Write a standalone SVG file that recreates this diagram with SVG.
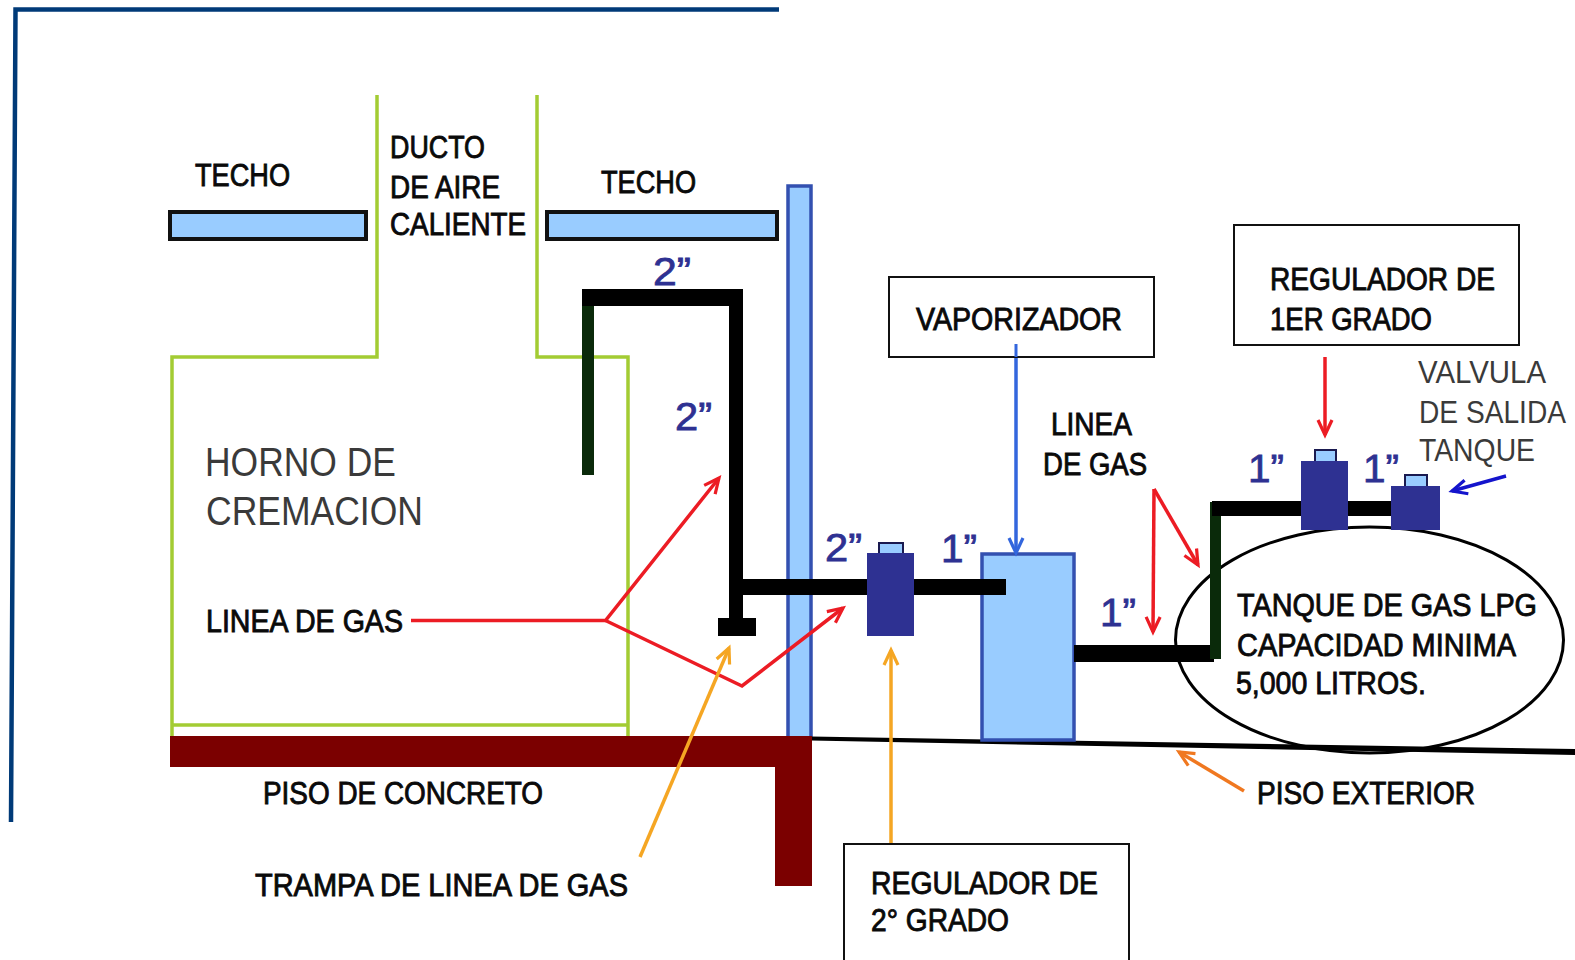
<svg xmlns="http://www.w3.org/2000/svg" width="1575" height="960" viewBox="0 0 1575 960">
<style>
text{font-family:"Liberation Sans",Arial,sans-serif;fill:#0a0a0a;stroke:#0a0a0a;stroke-width:.9}
.b{font-size:32px}
.t{font-size:40px;stroke:none;fill:#3a3a3a}
.v{font-size:32px;stroke:none;fill:#3a3a3a}
.d{font-size:39px;fill:#2e3192;stroke:#2e3192;stroke-width:.8}
.air{fill:none;stroke:#a3cc33;stroke-width:3.5}
.sky{fill:#99ccff;stroke:#111;stroke-width:4}
.lbl{fill:#fff;stroke:#111;stroke-width:2}
.reg{fill:#2e3192}
.cap{fill:#99ccff;stroke:#1a1a50;stroke-width:2}
.pipe{fill:#000}
.pipeg{fill:#0a2a0a}
.tank{fill:#99ccff;stroke:#3350b0;stroke-width:3.5}
.c{fill:none;stroke-width:3.5;stroke-linejoin:miter}
.m{fill:none;stroke-width:3.2}
</style>
<defs>
<marker id="ar" markerUnits="userSpaceOnUse" markerWidth="24" markerHeight="24" refX="20" refY="12" orient="auto"><path class="m" stroke="#ec1c24" d="M5 5L20 12L5 19"/></marker>
<marker id="ao" markerUnits="userSpaceOnUse" markerWidth="24" markerHeight="24" refX="20" refY="12" orient="auto"><path class="m" stroke="#f5a623" d="M5 5L20 12L5 19"/></marker>
<marker id="an" markerUnits="userSpaceOnUse" markerWidth="24" markerHeight="24" refX="20" refY="12" orient="auto"><path class="m" stroke="#f07820" d="M5 5L20 12L5 19"/></marker>
<marker id="ab" markerUnits="userSpaceOnUse" markerWidth="24" markerHeight="24" refX="20" refY="12" orient="auto"><path class="m" stroke="#3366dd" d="M5 5L20 12L5 19"/></marker>
<marker id="ad" markerUnits="userSpaceOnUse" markerWidth="24" markerHeight="24" refX="20" refY="12" orient="auto"><path class="m" stroke="#1414cc" d="M5 5L20 12L5 19"/></marker>
</defs>
<rect width="1575" height="960" fill="#fff"/>
<g id="frame"><path d="M779 9.5H15.5L11 822" fill="none" stroke="#003a78" stroke-width="4.5"/></g>
<g id="horno">
<path class="air" d="M377 95V357H172V737"/>
<path class="air" d="M537 95V357H628V737"/>
<path class="air" d="M172 725H628"/>
<text class="t" x="205" y="476" textLength="191" lengthAdjust="spacingAndGlyphs">HORNO DE</text>
<text class="t" x="206" y="525" textLength="217" lengthAdjust="spacingAndGlyphs">CREMACION</text>
</g>
<g id="techo-izq"><rect class="sky" x="170" y="212" width="196" height="27"/><text class="b" x="195" y="186" textLength="95" lengthAdjust="spacingAndGlyphs">TECHO</text></g>
<g id="techo-der"><rect class="sky" x="547" y="212" width="230" height="27"/><text class="b" x="601" y="193" textLength="95" lengthAdjust="spacingAndGlyphs">TECHO</text></g>
<g id="ducto">
<text class="b" x="390" y="158" textLength="95" lengthAdjust="spacingAndGlyphs">DUCTO</text>
<text class="b" x="390" y="198" textLength="110" lengthAdjust="spacingAndGlyphs">DE AIRE</text>
<text class="b" x="390" y="235" textLength="136" lengthAdjust="spacingAndGlyphs">CALIENTE</text>
</g>
<g id="columna"><rect class="tank" x="788" y="186" width="23" height="552"/></g>
<g id="tanque">
<ellipse cx="1369.5" cy="640" rx="194" ry="113" fill="#fff" stroke="#000" stroke-width="3"/>
<text class="b" x="1237" y="616" textLength="300" lengthAdjust="spacingAndGlyphs">TANQUE DE GAS LPG</text>
<text class="b" x="1237" y="656" textLength="279" lengthAdjust="spacingAndGlyphs">CAPACIDAD MINIMA</text>
<text class="b" x="1236" y="694" textLength="190" lengthAdjust="spacingAndGlyphs">5,000 LITROS.</text>
</g>
<g id="piso-exterior">
<path d="M811 736.5L1575 749V755L811 740.5Z" fill="#000"/>
<text class="b" x="1257" y="804" textLength="218" lengthAdjust="spacingAndGlyphs">PISO EXTERIOR</text>
</g>
<g id="piso-concreto">
<path d="M170 736H812V886H775V767H170Z" fill="#7b0000"/>
<text class="b" x="263" y="804" textLength="280" lengthAdjust="spacingAndGlyphs">PISO DE CONCRETO</text>
</g>
<g id="vaporizador-tanque"><rect class="tank" x="982" y="554" width="92" height="186"/></g>
<g id="tuberia">
<rect class="pipeg" x="582" y="289" width="12" height="186"/>
<rect class="pipe" x="582" y="289" width="161" height="17"/>
<rect class="pipe" x="729" y="289" width="14" height="335"/>
<rect class="pipe" x="718" y="618" width="38" height="18"/>
<rect class="pipe" x="743" y="579" width="263" height="16"/>
<rect class="pipe" x="1074" y="645" width="140" height="17"/>
<rect class="pipeg" x="1210" y="502" width="11" height="157"/>
<rect class="pipe" x="1212" y="501" width="179" height="15"/>
</g>
<g id="regulador-2"><rect class="cap" x="879" y="543" width="24" height="12"/><rect class="reg" x="867" y="553" width="47" height="83"/></g>
<g id="regulador-1"><rect class="cap" x="1315" y="450" width="21" height="12"/><rect class="reg" x="1301" y="461" width="47" height="69"/></g>
<g id="valvula"><rect class="cap" x="1405" y="475" width="22" height="14"/><rect class="reg" x="1391" y="486" width="49" height="44"/></g>
<g id="connectors">
<path class="c" stroke="#ec1c24" marker-end="url(#ar)" d="M411 620.5H605.5L719 478"/>
<path class="c" stroke="#ec1c24" marker-end="url(#ar)" d="M605.5 620.5L742 686L843 608"/>
<path class="c" stroke="#f5a623" marker-end="url(#ao)" d="M640 857L729 648"/>
<path class="c" stroke="#f5a623" marker-end="url(#ao)" d="M891 843V650"/>
<path class="c" stroke="#3366dd" marker-end="url(#ab)" d="M1016 344V553"/>
<path class="c" stroke="#ec1c24" marker-end="url(#ar)" d="M1325 357V435"/>
<path class="c" stroke="#ec1c24" marker-end="url(#ar)" d="M1154 489L1153 632"/>
<path class="c" stroke="#ec1c24" marker-end="url(#ar)" d="M1154 489L1198 565"/>
<path class="c" stroke="#1414cc" marker-end="url(#ad)" d="M1506 476L1452 491"/>
<path class="c" stroke="#f07820" marker-end="url(#an)" d="M1244 791L1179 752"/>
</g>
<g id="etiqueta-linea-gas-1"><text class="b" x="206" y="632" textLength="197" lengthAdjust="spacingAndGlyphs">LINEA DE GAS</text></g>
<g id="etiqueta-trampa"><text class="b" x="255" y="896" textLength="373" lengthAdjust="spacingAndGlyphs">TRAMPA DE LINEA DE GAS</text></g>
<g id="etiqueta-linea-gas-2">
<text class="b" x="1051" y="435" textLength="81" lengthAdjust="spacingAndGlyphs">LINEA</text>
<text class="b" x="1043" y="475" textLength="104" lengthAdjust="spacingAndGlyphs">DE GAS</text>
</g>
<g id="caja-vaporizador"><rect class="lbl" x="889" y="277" width="265" height="80"/><text class="b" x="916" y="330" textLength="206" lengthAdjust="spacingAndGlyphs">VAPORIZADOR</text></g>
<path d="M1016 344V357" stroke="#3366dd" stroke-width="3"/>
<g id="caja-regulador-1"><rect class="lbl" x="1234" y="225" width="285" height="120"/>
<text class="b" x="1270" y="290" textLength="225" lengthAdjust="spacingAndGlyphs">REGULADOR DE</text>
<text class="b" x="1270" y="330" textLength="162" lengthAdjust="spacingAndGlyphs">1ER GRADO</text></g>
<g id="caja-regulador-2"><rect class="lbl" x="844" y="844" width="285" height="130"/>
<text class="b" x="871" y="894" textLength="227" lengthAdjust="spacingAndGlyphs">REGULADOR DE</text>
<text class="b" x="871" y="931" textLength="138" lengthAdjust="spacingAndGlyphs">2° GRADO</text></g>
<g id="etiqueta-valvula">
<text class="v" x="1418" y="383" textLength="128" lengthAdjust="spacingAndGlyphs">VALVULA</text>
<text class="v" transform="translate(1419 423) scale(.88 1)">DE SALIDA</text>
<text class="v" x="1419" y="461" textLength="116" lengthAdjust="spacingAndGlyphs">TANQUE</text>
</g>
<g id="diametros">
<text class="d" x="653" y="285" textLength="38" lengthAdjust="spacingAndGlyphs">2”</text>
<text class="d" x="675" y="430" textLength="37" lengthAdjust="spacingAndGlyphs">2”</text>
<text class="d" x="825" y="561" textLength="37" lengthAdjust="spacingAndGlyphs">2”</text>
<text class="d" x="941" y="562" textLength="36" lengthAdjust="spacingAndGlyphs">1”</text>
<text class="d" x="1100" y="626" textLength="36" lengthAdjust="spacingAndGlyphs">1”</text>
<text class="d" x="1248" y="482" textLength="36" lengthAdjust="spacingAndGlyphs">1”</text>
<text class="d" x="1363" y="482" textLength="36" lengthAdjust="spacingAndGlyphs">1”</text>
</g>
</svg>
